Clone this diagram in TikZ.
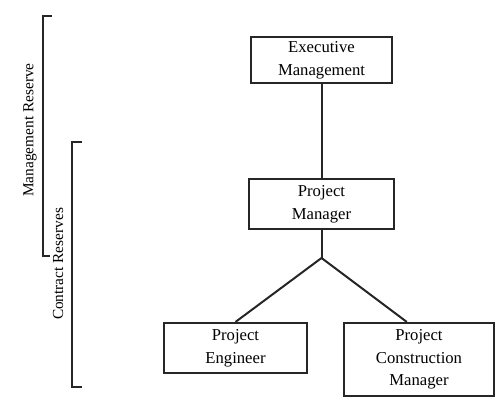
\documentclass[tikz,border=0pt]{standalone}
\usepackage{fontspec}
\setmainfont{Liberation Serif}
\usetikzlibrary{calc}
\begin{document}
\begin{tikzpicture}[x={(0.75pt,0)},y={(0,-0.75pt)},
  orgbox/.style={draw=black!85, line width=1.6pt, rectangle, align=center,
    inner sep=0pt, font=\fontsize{12.5}{17}\selectfont},
  conn/.style={draw=black!85, line width=1.5pt},
  brack/.style={draw=black!85, line width=1.5pt},
  sidelabel/.style={rotate=90, font=\fontsize{11.5}{14}\selectfont, inner sep=0pt}]
\useasboundingbox (0,0) rectangle (502,414);
\node[orgbox, minimum width=105.75pt, minimum height=34.5pt] (exec) at (321.5,60) {Executive\\Management};
\node[orgbox, minimum width=108.75pt, minimum height=37.5pt] (pm) at (321.5,204) {Project\\Manager};
\node[orgbox, minimum width=107pt, minimum height=37.5pt] (pe) at (235.5,348) {Project\\Engineer};
\node[orgbox, minimum width=112.5pt, minimum height=54.75pt] (pcm) at (419,359.5) {Project\\Construction\\Manager};
\coordinate (j) at (321.5,258);
\draw[conn] (exec.south) -- (pm.north);
\draw[conn] (pm.south) -- (j);
\draw[conn] (j) -- (pe.north);
\draw[conn] (j) -- ($(pcm.north west)!0.42!(pcm.north east)$);
% brackets
\coordinate (mrtop) at (52,16);
\coordinate (mrbot) at (50,256);
\draw[brack] (mrtop) -- (43,16) -- (43,256) -- (mrbot);
\node[sidelabel] (mr) at (30,130) {Management Reserve};
\coordinate (crtop) at (82,142);
\coordinate (crbot) at (82,387);
\draw[brack] (crtop) -- (72,142) -- (72,387) -- (crbot);
\node[sidelabel] (cr) at (58,264) {Contract Reserves};
\end{tikzpicture}
\end{document}
